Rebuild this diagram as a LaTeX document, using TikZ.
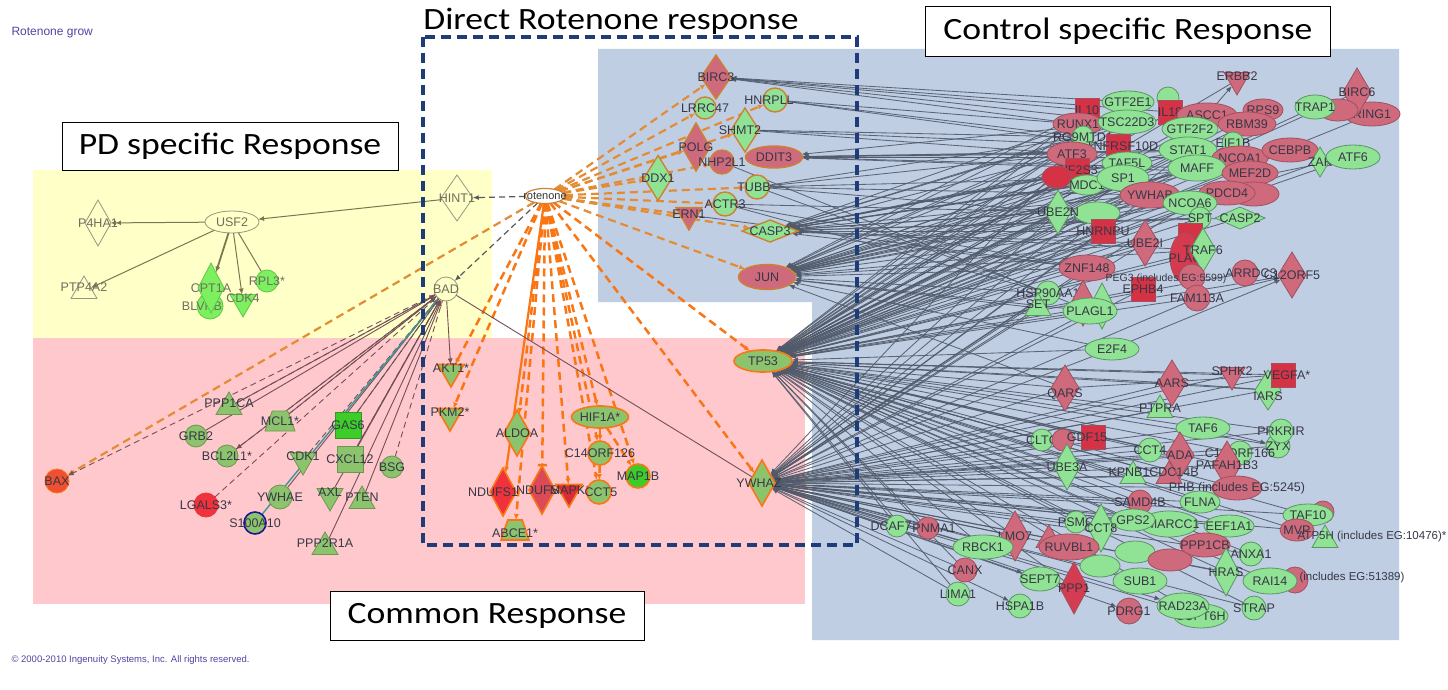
\documentclass[tikz,border=0pt]{standalone}
\usepackage{fontspec}
\setmainfont{Liberation Sans}
\newfontfamily\ttlfont[FakeStretch=1.15]{Carlito}
\usetikzlibrary{shapes.geometric,arrows.meta}
\pgfdeclarelayer{bglayer}
\pgfdeclarelayer{edgelayer}
\pgfsetlayers{bglayer,edgelayer,main}
\definecolor{ylwBg}{RGB}{255,255,200}
\definecolor{pnkBg}{RGB}{255,200,204}
\definecolor{bluBg}{RGB}{192,206,228}
\definecolor{gFill}{RGB}{144,226,148}
\definecolor{gDraw}{RGB}{90,150,100}
\definecolor{rFill}{RGB}{206,106,124}
\definecolor{rDraw}{RGB}{160,80,95}
\definecolor{sqRed}{RGB}{214,50,70}
\definecolor{pgFill}{RGB}{140,196,110}
\definecolor{pgDraw}{RGB}{110,150,80}
\definecolor{brGreen}{RGB}{60,205,40}
\definecolor{brGreenD}{RGB}{50,150,40}
\definecolor{ygFill}{RGB}{125,240,95}
\definecolor{ygDraw}{RGB}{95,200,70}
\definecolor{cOutl}{RGB}{150,150,130}
\definecolor{orngA}{RGB}{228,140,52}
\definecolor{orngB}{RGB}{250,118,20}
\definecolor{cOrU}{RGB}{205,130,50}
\definecolor{cCtl}{RGB}{80,90,106}
\definecolor{cOlv}{RGB}{120,120,80}
\definecolor{cOlvT}{RGB}{110,110,95}
\definecolor{cBrn}{RGB}{115,80,88}
\definecolor{cBox}{RGB}{30,60,120}
\definecolor{cLbl}{RGB}{55,55,70}
\definecolor{redB}{RGB}{240,50,60}
\definecolor{redO}{RGB}{240,80,50}
\definecolor{cNavy}{RGB}{30,20,150}
\definecolor{cTeal}{RGB}{60,150,150}
\definecolor{cPurp}{RGB}{80,70,160}
\begin{document}
\begin{tikzpicture}[x=1pt,y=-1pt,
  every label/.style={font=\fontsize{12.5}{13}\selectfont,text=cLbl,inner sep=0pt},
  nd/.style={inner sep=0pt,outer sep=0pt,line width=0.8pt},
  gE/.style={nd,ellipse,minimum width=52pt,minimum height=22pt,fill=gFill,draw=gDraw},
  rE/.style={nd,ellipse,minimum width=52pt,minimum height=22pt,fill=rFill,draw=rDraw},
  gC/.style={nd,circle,minimum size=22pt,fill=gFill,draw=gDraw},
  rC/.style={nd,circle,minimum size=22pt,fill=rFill,draw=rDraw},
  gD/.style={nd,diamond,minimum width=26pt,minimum height=46pt,fill=gFill,draw=gDraw},
  rD/.style={nd,diamond,minimum width=26pt,minimum height=46pt,fill=rFill,draw=rDraw},
  gT/.style={nd,regular polygon,regular polygon sides=3,minimum size=30pt,fill=gFill,draw=gDraw},
  rT/.style={nd,regular polygon,regular polygon sides=3,minimum size=30pt,fill=rFill,draw=rDraw},
  gV/.style={gT,shape border rotate=180},
  rV/.style={rT,shape border rotate=180},
  rS/.style={nd,rectangle,minimum size=24pt,fill=sqRed,draw=rDraw},
  gS/.style={nd,rectangle,minimum size=26pt,fill=gFill,draw=gDraw},
  gZ/.style={nd,inner sep=3pt,trapezium,trapezium stretches=true,trapezium left angle=65,trapezium right angle=65,minimum width=30pt,minimum height=20pt,fill=gFill,draw=gDraw},
  pk/.style={fill=pgFill,draw=pgDraw},
  yl/.style={fill=ygFill,draw=ygDraw},
  ol/.style={fill=none,draw=cOutl},
  orB/.style={draw=orngB,line width=1.6pt},
  orU/.style={draw=cOrU,line width=1.4pt},
  ctlE/.style={draw=cCtl,line width=0.85pt,draw opacity=0.9},
  arr/.style={-{Latex[length=6pt,width=5pt]}},
  ornA/.style={draw=orngA,line width=2.2pt,dash pattern=on 8pt off 5pt},
  ornB/.style={draw=orngB,line width=2.5pt,dash pattern=on 8pt off 5pt},
  olvE/.style={draw=cOlv,line width=1pt},
  brnE/.style={draw=cBrn,line width=0.9pt},
  brnD/.style={brnE,dash pattern=on 6pt off 4pt},
  gryD/.style={draw=gray!70!black,line width=1.2pt,dash pattern=on 6pt off 4pt},
  ttl/.style={font=\ttlfont\fontsize{31}{34}\selectfont,text=black},
  tbox/.style={ttl,draw=black,line width=0.9pt,fill=white,inner sep=0pt}
]
\useasboundingbox (0,0) rectangle (1448,690);
\begin{pgfonlayer}{bglayer}
\fill[white] (0,0) rectangle (1448,690);
\fill[ylwBg] (33,170) rectangle (492,338);
\fill[pnkBg] (33,338) rectangle (805,604);
\fill[bluBg] (598,49) -- (1399,49) -- (1399,640) -- (812,640) -- (812,302) -- (598,302) -- cycle;
\end{pgfonlayer}

% ---------- PD region ----------
\node[gD,ol,minimum width=32pt,minimum height=46pt,label={[text=cOlvT]center:HINT1}] (hint1) at (457,198) {};
\node[gE,ol,minimum width=54pt,minimum height=22pt,label={[text=cOlvT]center:USF2}] (usf2) at (232,222) {};
\node[gD,ol,label={[text=cOlvT]center:P4HA1}] (p4ha1) at (98,223) {};
\node[gT,ol,label={[text=cOlvT,yshift=4pt]center:PTP4A2}] (ptp4a2) at (84,291) {};
\node[gC,yl,minimum size=26pt,label={[text=cOlvT,xshift=-8pt]center:BLVRB}] (blvrb) at (210,306) {};
\node[gD,yl,minimum height=50pt,label={[text=cOlvT]center:CPT1A}] (cpt1a) at (211,288) {};
\node[gV,yl,label={[text=cOlvT,yshift=4pt]center:CDK4}] (cdk4) at (243,302) {};
\node[gC,yl,label={[text=cOlvT]center:RPL3*}] (rpl3) at (267,281) {};
\node[gC,ol,minimum size=24pt,label={[text=cOlvT]center:BAD}] (bad) at (446,289) {};

% ---------- Common region ----------
\node[gT,pk,label={[yshift=4pt]center:PPP1CA}] (ppp1ca) at (229,407) {};
\node[gC,pk,label=center:GRB2] (grb2) at (196,436) {};
\node[gZ,pk,label=center:MCL1*] (mcl1) at (280,421) {};
\node[gS,fill=brGreen,draw=brGreenD,label=center:GAS6] (gas6) at (348,425) {};
\node[gC,pk,label=center:BCL2L1*] (bcl2l1) at (227,456) {};
\node[gV,pk,label={[yshift=4pt]center:CDK1}] (cdk1) at (303,460) {};
\node[gS,pk,label=center:CXCL12] (cxcl12) at (350,459) {};
\node[gC,pk,label=center:BSG] (bsg) at (392,467) {};
\node[gC,fill=redO,draw=orngB,minimum size=24pt,label=center:BAX] (bax) at (57,481) {};
\node[gC,fill=redB,draw=redB,minimum size=24pt,label=center:LGALS3*] (lgals3) at (206,505) {};
\node[gC,pk,minimum size=24pt,label=center:YWHAE] (ywhae) at (280,497) {};
\node[gV,pk,label={[yshift=4pt]center:AXL}] (axl) at (330,496) {};
\node[gT,pk,label={[yshift=4pt]center:PTEN}] (pten) at (362,501) {};
\node[gC,pk,draw=cNavy,line width=1.6pt,label=center:S100A10] (s100a10) at (255,523) {};
\node[gT,pk,label={[yshift=4pt]center:PPP2R1A}] (ppp2r1a) at (325,547) {};

% ---------- Direct region ----------
\node[nd,ellipse,minimum width=40pt,minimum height=15pt,fill=white,draw=cOrU,line width=1.2pt,
      label={[font=\fontsize{11}{12}\selectfont,text=black!80]center:rotenone}] (rot) at (545,196) {};
\node[gV,pk,orB,label={[yshift=4pt]center:AKT1*}] (akt1) at (451,372) {};
\node[gV,pk,orB,label={[yshift=4pt]center:PKM2*}] (pkm2) at (450,416) {};
\node[gD,pk,orB,label=center:ALDOA] (aldoa) at (517,433) {};
\node[gE,pk,orB,minimum width=57pt,minimum height=22pt,label=center:HIF1A*] (hif1a) at (600,417) {};
\node[gC,pk,orB,minimum size=24pt,label=center:C14ORF126] (c14) at (600,453) {};
\node[gC,fill=brGreen,draw=orngB,line width=1.6pt,minimum size=24pt,label=center:MAP1B] (map1b) at (638,476) {};
\node[gD,fill=redB,draw=orngB,line width=1.6pt,minimum height=48pt,label={[xshift=-10pt]center:NDUFS1}] (ndufs1) at (503,492) {};
\node[gD,fill=rFill!70!red,draw=orngB,line width=1.6pt,minimum height=48pt,label={[xshift=-1pt]center:NDUFS3}] (ndufs3) at (542,490) {};
\node[gV,fill=redB!90!black,draw=orngB,line width=1.6pt,label={[yshift=2pt,xshift=2pt]center:MAPK1}] (mapk1) at (569,492) {};
\node[gC,pk,orB,minimum size=24pt,label={[xshift=2pt]center:CCT5}] (cct5) at (599,492) {};
\node[gZ,pk,orB,minimum width=28pt,label={[yshift=-3pt]center:ABCE1*}] (abce1) at (515,530) {};
\node[gE,pk,orB,minimum width=58pt,minimum height=22pt,label=center:TP53] (tp53) at (763,361) {};
\node[gD,pk,orB,minimum width=26pt,minimum height=46pt,label={[xshift=-3pt]center:YWHAZ}] (ywhaz) at (762,483) {};

\node[rD,orU,minimum width=30pt,minimum height=44pt,label=center:BIRC3] (birc3) at (716,77) {};
\node[gC,orU,label=center:LRRC47] (lrrc47) at (705,108) {};
\node[gC,orU,minimum size=24pt,label={[xshift=-6pt]center:HNRPLL}] (hnrpll) at (775,100) {};
\node[gD,orU,minimum width=28pt,minimum height=44pt,label={[xshift=-5pt]center:SHMT2}] (shmt2) at (745,130) {};
\node[rD,orU,minimum width=28pt,minimum height=48pt,label=center:POLG] (polg) at (696,147) {};
\node[rC,orU,minimum size=24pt,label=center:NHP2L1] (nhp2l1) at (722,162) {};
\node[rE,orU,minimum width=57pt,minimum height=22pt,label=center:DDIT3] (ddit3) at (774,157) {};
\node[gD,orU,minimum width=28pt,minimum height=45pt,label=center:DDX1] (ddx1) at (658,178) {};
\node[gC,orU,minimum size=24pt,label={[xshift=-3pt]center:TUBB}] (tubb) at (757,187) {};
\node[gC,orU,minimum size=24pt,label=center:ACTR3] (actr3) at (725,204) {};
\node[rV,orU,label={[yshift=1pt]center:ERN1}] (ern1) at (689,215) {};
\node[gD,orU,minimum width=56pt,minimum height=22pt,label=center:CASP3] (casp3) at (770,231) {};
\node[rE,orU,minimum width=57pt,minimum height=25pt,label=center:JUN] (jun) at (767,277) {};

% ---------- Control region: upper cluster ----------
\node[rV,label={[yshift=4pt]center:ERBB2}] (erbb2) at (1237,80) {};
\node[rE,minimum width=56pt,minimum height=24pt,label=center:RING1] (ring1) at (1372,114) {};
\node[rD,minimum width=28pt,minimum height=48pt,label=center:BIRC6] (birc6) at (1357,92) {};
\node[rE,minimum width=40pt,label=center:RPS9] (rps9) at (1263,110) {};
\node[rE,minimum width=40pt] (thh4) at (1338,110) {};
\node[gE,minimum width=40pt,minimum height=24pt,label=center:TRAP1] (trap1) at (1315,107) {};
\node[gC] (gx1) at (1168,98) {};
\node[rS,label=center:IL10] (il10) at (1087,110) {};
\node[rS,label=center:IL18] (il18) at (1170,112) {};
\node[gE,label=center:GTF2E1] (gtf2e1) at (1128,102) {};
\node[rE,minimum width=60pt,minimum height=24pt,label=center:ASCC1] (ascc1) at (1207,115) {};
\node[rE,minimum width=58pt,minimum height=24pt,label=center:RBM39] (rbm39) at (1247,124) {};
\node[rE,minimum width=50pt,label=center:RUNX1] (runx) at (1078,124) {};
\node[gE,minimum width=58pt,minimum height=24pt,label=center:TSC22D3] (tsc) at (1127,122) {};
\node[gE,minimum width=56pt,minimum height=24pt,label=center:GTF2F2] (gtf2f2) at (1190,129) {};
\node[gC,label=center:RG9MTD1] (rg9) at (1083,137) {};
\node[rS,label={[xshift=4pt]center:TNFRSF10D}] (tnfr) at (1118,146) {};
\node[gC,label=center:EIF1B] (eif1b) at (1233,143) {};
\node[rE,minimum width=50pt,minimum height=24pt,label=center:ATF3] (atf3) at (1072,154) {};
\node[gE,minimum width=58pt,minimum height=26pt,label=center:STAT1] (stat1) at (1188,150) {};
\node[rE,minimum width=56pt,minimum height=24pt,label=center:NCOA1] (ncoa1) at (1240,158) {};
\node[rE,minimum width=56pt,minimum height=24pt,label=center:CEBPB] (cebpb) at (1290,150) {};
\node[gD,minimum width=18pt,minimum height=30pt,label=center:ZAK] (zak) at (1320,162) {};
\node[gE,minimum width=54pt,minimum height=24pt,label=center:ATF6] (atf6) at (1353,157) {};
\node[rS,fill=sqRed,label=center:EIF2S3] (eif2s3) at (1077,170) {};
\node[rE,fill=sqRed,minimum width=30pt] (fx) at (1057,177) {};
\node[gE,minimum width=50pt,label=center:TAF5L] (taf5l) at (1127,163) {};
\node[gE,minimum width=36pt,minimum height=20pt,label=center:MDC1] (mdc1) at (1087,185) {};
\node[gE,minimum width=52pt,minimum height=26pt,label=center:SP1] (sp1) at (1123,178) {};
\node[gE,minimum width=58pt,minimum height=26pt,label=center:MAFF] (maff) at (1197,168) {};
\node[rE,minimum width=56pt,minimum height=24pt,label=center:MEF2D] (mef2d) at (1250,173) {};
\node[rE,minimum width=50pt,minimum height=24pt] (nr2) at (1254,194) {};
\node[rE,minimum width=56pt,minimum height=24pt,label=center:PDCD4] (pdcd4) at (1227,193) {};
\node[rE,minimum width=60pt,minimum height=26pt,label=center:YWHAB] (ywhab) at (1150,195) {};
\node[gE,minimum width=54pt,minimum height=24pt,label=center:NCOA6] (ncoa6) at (1190,203) {};
\node[gE,minimum width=46pt] (as2) at (1097,213) {};
\node[gD,minimum width=26pt,minimum height=44pt,label=center:UBE2N] (ube2n) at (1058,212) {};
\node[gC,label=center:SPT] (spt) at (1200,218) {};
\node[gD,minimum width=50pt,minimum height=22pt,label=center:CASP2] (casp2) at (1240,218) {};
\node[rS,label=center:HNRNPU] (hnrnpu) at (1103,231) {};
\node[rD,minimum width=28pt,minimum height=46pt,label=center:UBE2I] (ube2i) at (1145,243) {};
\node[rS] (efna) at (1190,235) {};
\node[rE,fill=sqRed!85!rFill,minimum width=30pt,minimum height=50pt,label=center:PLAU] (pla) at (1185,258) {};
\node[gD,minimum width=26pt,minimum height=44pt,label=center:TRAF6] (traf6) at (1203,250) {};
\node[rE,minimum width=56pt,minimum height=26pt,label=center:ZNF148] (znf148) at (1087,268) {};
\node[rC,minimum size=26pt] (pegc) at (1192,277) {};
\node[rC,minimum size=26pt,label={[xshift=6pt]center:ARRDC3}] (arrdc) at (1245,273) {};
\node[rS,label=center:EPHB4] (ephb) at (1143,289) {};
\node[rC,minimum size=26pt,label=center:FAM113A] (fam113a) at (1197,298) {};
\node[rD,minimum width=28pt,minimum height=46pt,label=center:C12ORF5] (c12orf5) at (1292,275) {};
\node (peglbl) at (1166,279) {\fontsize{10.5}{11}\selectfont\color{cLbl}PEG3 (includes EG:5599)};
\node[gC,minimum size=24pt,label=center:HSP90AA1] (hsp90) at (1048,293) {};
\node[gT,label={[yshift=4pt]center:SET}] (set) at (1038,308) {};
\node[rD,minimum width=24pt,minimum height=46pt] (plr) at (1083,303) {};
\node[gD,minimum width=24pt,minimum height=46pt] (plg) at (1102,306) {};
\node[gE,minimum width=54pt,minimum height=26pt,label=center:PLAGL1] (plagl1) at (1090,311) {};
\node[gE,minimum width=54pt,minimum height=22pt,label=center:E2F4] (e2f4) at (1112,349) {};

% ---------- Control region: lower cluster ----------
\node[rD,minimum width=28pt,minimum height=46pt,label={[yshift=-6pt]center:QARS}] (qars) at (1065,388) {};
\node[gT,label={[yshift=2pt]center:PTPRA}] (ptpra) at (1160,410) {};
\node[rD,minimum width=28pt,minimum height=46pt,label=center:AARS] (aars) at (1172,383) {};
\node[rV,label={[yshift=4pt]center:SPHK2}] (sphk2) at (1232,375) {};
\node[gD,minimum width=26pt,minimum height=40pt,label={[yshift=-6pt]center:IARS}] (iars) at (1268,390) {};
\node[rS,label={[xshift=4pt]center:VEGFA*}] (vegfa) at (1283,375) {};
\node[gE,minimum width=54pt,minimum height=22pt,label=center:TAF6] (taf6) at (1203,428) {};
\node[gC,minimum size=24pt,label=center:ZYX] (zyx) at (1278,446) {};
\node[gC,minimum size=24pt,label=center:PRKRIR] (prkrir) at (1281,431) {};
\node[gC,label=center:CLTC] (cltc) at (1042,440) {};
\node[rC] (cltr) at (1063,440) {};
\node[rS,label={[xshift=-6pt]center:GDF15}] (gdf15) at (1093,437) {};
\node[gD,minimum width=26pt,minimum height=46pt,label=center:UBE3A] (ube3a) at (1067,467) {};
\node[gC,minimum size=24pt,label=center:CCT4] (cct4) at (1150,450) {};
\node[rD,minimum width=28pt,minimum height=46pt,label=center:ADA] (ada) at (1180,455) {};
\node[gC,minimum size=24pt,label=center:C14ORF166] (c14orf166) at (1240,453) {};
\node[rD,minimum width=28pt,minimum height=48pt,label=center:PAFAH1B3] (pafah) at (1227,465) {};
\node[gT,label={[yshift=4pt,xshift=-4pt]center:KPNB1}] (kpnb1) at (1133,476) {};
\node[rT,label={[yshift=4pt,xshift=5pt]center:CDC14B}] (cdc14b) at (1169,476) {};
\node[rE,minimum width=50pt,minimum height=24pt,label={center:{PHB (includes EG:5245)}}] (phb) at (1237,488) {};
\node[rC,minimum size=24pt,label=center:SAMD4B] (samd4b) at (1140,502) {};
\node[gE,minimum width=40pt,minimum height=22pt,label=center:FLNA] (flna) at (1200,502) {};
\node[rC] (t10r) at (1323,512) {};
\node[gE,minimum width=50pt,minimum height=22pt,label=center:TAF10] (taf10) at (1308,515) {};
\node[rE,minimum width=34pt,minimum height=22pt,label=center:MVP] (mvp) at (1297,530) {};
\node[gT] (atp5h) at (1325,540) {};
\node (atplbl) at (1372,537) {\fontsize{11.5}{12}\selectfont\color{cLbl}ATP5H (includes EG:10476)*};
\node[gE,minimum width=50pt,minimum height=22pt,label=center:EEF1A1] (eef1a1) at (1229,526) {};
\node[gE,minimum width=58pt,minimum height=26pt,label=center:SMARCC1] (smarcc1) at (1169,524) {};
\node[gE,minimum width=44pt,minimum height=22pt,label=center:GPS2] (gps2) at (1133,520) {};
\node[gC,label=center:PSMC] (psm) at (1076,522) {};
\node[gD,minimum width=26pt,minimum height=48pt,label=center:CCT8] (cct8) at (1101,528) {};
\node[rT] (rtri) at (1049,540) {};
\node[rD,minimum width=28pt,minimum height=50pt,label=center:LMO7] (lmo7) at (1015,536) {};
\node[gE,minimum width=60pt,minimum height=24pt,label=center:RBCK1] (rbck1) at (983,547) {};
\node[rE,minimum width=60pt,minimum height=26pt,label=center:RUVBL1] (ruvbl1) at (1069,547) {};
\node[gC,label={[xshift=-6pt]center:DCAF7}] (dcaf) at (897,526) {};
\node[rC,label={[xshift=6pt]center:PNMA1}] (pnma1) at (928,528) {};
\node[rC,minimum size=24pt,label=center:CANX] (canx) at (965,570) {};
\node[gC,minimum size=24pt,label=center:LIMA1] (lima1) at (958,594) {};
\node[gE,minimum width=40pt,minimum height=24pt,label=center:SEPT7] (sept7) at (1040,579) {};
\node[gC,minimum size=24pt,label=center:HSPA1B] (hspa1b) at (1020,606) {};
\node[gE,minimum width=40pt] (gx2) at (1100,566) {};
\node[gE,minimum width=40pt] (gx3) at (1135,552) {};
\node[rE,minimum width=44pt] (rx1) at (1170,560) {};
\node[rD,fill=sqRed!80!rFill,minimum width=28pt,minimum height=52pt,label=center:PPP1] (ppp1) at (1074,588) {};
\node[rC,minimum size=26pt,label=center:PDRG1] (pdrg1) at (1129,611) {};
\node[gE,minimum width=54pt,minimum height=26pt,label=center:SUB1] (sub1) at (1140,581) {};
\node[rE,minimum width=50pt,minimum height=24pt,label=center:PPP1CB] (ppp1cb) at (1205,545) {};
\node[gE,minimum width=54pt,minimum height=24pt,label=center:SUPT6H] (supt6h) at (1201,616) {};
\node[gE,minimum width=52pt,minimum height=26pt,label=center:RAD23A] (rad23a) at (1183,606) {};
\node[gC,minimum size=24pt,label=center:ANXA1] (anxa1) at (1251,554) {};
\node[rC,minimum size=26pt] (rx2) at (1295,580) {};
\node[gE,minimum width=54pt,minimum height=26pt,label=center:RAI14] (rai14) at (1270,581) {};
\node[gD,minimum width=26pt,minimum height=48pt,label=center:HRAS] (hras) at (1226,572) {};
\node[gC,minimum size=24pt,label=center:STRAP] (strap) at (1254,608) {};
\node (eglbl) at (1352,578) {\fontsize{11.5}{12}\selectfont\color{cLbl}(includes EG:51389)};

% ---------- edges ----------
\begin{pgfonlayer}{edgelayer}
\foreach \n in {erbb2,birc6,ring1,trap1,rps9,gtf2e1,il10,il18,ascc1,rbm39,runx,tsc,gtf2f2,rg9,tnfr,eif1b,atf3,stat1,ncoa1,cebpb,atf6,zak,eif2s3,fx,taf5l,sp1,maff,mef2d,mdc1,ywhab,pdcd4,ncoa6,ube2n,spt,casp2,hnrnpu,ube2i,traf6,pla,znf148,arrdc,c12orf5,ephb,fam113a,hsp90,set,plagl1,e2f4,qars,aars,sphk2,vegfa,iars,ptpra,taf6,prkrir,zyx,cltc,gdf15,ube3a,cct4,ada,c14orf166,pafah,kpnb1,cdc14b,phb,samd4b,flna,taf10,mvp,eef1a1,smarcc1,gps2,cct8,psm,lmo7,rbck1,ruvbl1,dcaf,pnma1,canx,lima1,ppp1,strap,rai14,hras,anxa1,supt6h}
  \draw[ctlE,arr] (\n) -- (tp53);
\foreach \n in {qars,aars,sphk2,vegfa,iars,ptpra,taf6,prkrir,zyx,cltc,gdf15,ube3a,cct4,ada,c14orf166,pafah,kpnb1,cdc14b,phb,samd4b,flna,taf10,mvp,eef1a1,smarcc1,gps2,cct8,psm,lmo7,rbck1,ruvbl1,dcaf,pnma1,canx,lima1,ppp1,strap,rai14,hras,anxa1,supt6h,e2f4,plagl1,set,hsp90,znf148,ephb,fam113a,ube2i,hnrnpu,ube2n,sp1,atf3,stat1,ncoa6,ywhab}
  \draw[ctlE,arr] (\n) -- (ywhaz);
\foreach \n in {sept7,hspa1b,pdrg1,rad23a,sub1}
  \draw[ctlE,arr] (ywhaz) -- (\n);
\foreach \n in {il10,runx,tsc,rg9,atf3,stat1,sp1,maff,mdc1,ywhab,ncoa6,ube2n,hnrnpu,ube2i,znf148,plagl1,hsp90,set,e2f4,eif2s3,fx,taf5l,ncoa1,cebpb,atf6,pdcd4,traf6,qars}
  \draw[ctlE,arr] (\n) -- (jun);
\foreach \n in {runx,atf3,eif2s3,fx,mdc1,sp1,taf5l,ywhab,ube2n,hnrnpu,ube2i,stat1,maff,ncoa6,casp2,spt,traf6,znf148,tsc,rg9}
  \draw[ctlE,arr] (\n) -- (casp3);
\foreach \n in {atf3,stat1,cebpb,atf6,ncoa1,tsc,maff,mef2d}
  \draw[ctlE,arr] (\n) -- (ddit3);
\foreach \n in {rg9,atf3,sp1,ube2n,ywhab,hsp90}
  \draw[ctlE] (\n) -- (tubb);
\foreach \n in {il10,runx,gtf2e1,tsc,il18}
  \draw[ctlE,arr] (\n) -- (birc3);
\foreach \n in {runx,rg9,tnfr}
  \draw[ctlE] (\n) -- (hnrpll);
\foreach \n in {rg9,atf3,tnfr}
  \draw[ctlE] (\n) -- (shmt2);
\foreach \n in {ube2n,hsp90,znf148}
  \draw[ctlE] (\n) -- (actr3);
\draw[ctlE] (ern1) -- (znf148);
\draw[ctlE] (nhp2l1) -- (plagl1);
\draw[ctlE,arr] (ascc1) -- (erbb2);
\draw[ctlE,arr] (fam113a) -- (c12orf5);
\draw[ctlE,arr] (e2f4) -- (c12orf5);
\draw[ctlE,arr] (taf6) -- (zyx);
\draw[ctlE] (qars) -- (vegfa);
\draw[ctlE] (aars) -- (iars);

\foreach \n in {birc3,lrrc47,hnrpll,shmt2,polg,nhp2l1,ddx1,tubb,actr3,ern1,casp3,jun}
  \draw[ornA,arr] (rot) -- (\n);
\foreach \n in {tp53,ywhaz,akt1,pkm2,aldoa,abce1,mapk1,hif1a,c14,cct5,map1b}
  \draw[ornB,arr] (rot) -- (\n);
\draw[ornB,arr] (hif1a) -- (c14);
\draw[ornB,arr] (c14) -- (cct5);
\draw[ornB,arr] (hif1a) -- (map1b);
\draw[draw=orngB,line width=2.2pt,arr] (rot) -- (ndufs1);
\draw[ornB,-{Bar[width=9pt]}] (rot) -- (ndufs3);
\draw[ornA,arr] (rot) -- (bax);
\draw[gryD,arr] (rot) -- (hint1);
\draw[gryD,arr] (rot) -- (bad);

\draw[olvE,arr] (hint1) -- (usf2);
\draw[olvE,-{Latex[length=5pt,width=5pt]Latex[length=5pt,width=5pt]}] (usf2) -- (p4ha1);
\draw[olvE,arr] (usf2) -- (ptp4a2);
\draw[olvE,line width=1.8pt,arr] (usf2) -- (cpt1a);
\draw[olvE,arr] (usf2) -- (cdk4);
\draw[olvE] (usf2) -- (rpl3);

\draw[brnD,arr] (bad) -- (bax);
\draw[brnE,arr] (bad) -- (bcl2l1);
\draw[brnD] (bad) -- (bcl2l1);
\draw[brnE,arr] (bad) -- (akt1);
\draw[brnE] (bad) -- (ywhaz);
\foreach \n in {ppp1ca,grb2,mcl1,ywhae,axl,pten,ppp2r1a,cxcl12}
  \draw[brnE,arr] (\n) -- (bad);
\foreach \n in {ppp1ca,mcl1,cdk1,gas6,bsg,lgals3,cxcl12}
  \draw[brnD] (\n) -- (bad);
\draw[draw=cTeal,line width=1.4pt] (s100a10) -- (bad);
\draw[brnE] (gas6) -- (bad);
\end{pgfonlayer}

\draw[draw=cBox,line width=3.4pt,dash pattern=on 10pt off 6pt] (423,37) rectangle (857,545);
\node[ttl] (tdir) at (611,21) {Direct Rotenone response};
\node[tbox,minimum width=336pt,minimum height=48pt] (tpd) at (230,146) {PD specific Response};
\node[tbox,minimum width=405pt,minimum height=50pt] (tctl) at (1128,31) {Control specific Response};
\node[tbox,minimum width=314pt,minimum height=49pt] (tcom) at (487,616) {Common Response};
\node[anchor=west,font=\fontsize{12}{13}\selectfont,text=cPurp] (rgrow) at (8,33) {Rotenone grow};
\node[anchor=west,font=\fontsize{9.5}{11}\selectfont,text=cPurp] (copy) at (8,660) {© 2000-2010 Ingenuity Systems, Inc. All rights reserved.};
\end{tikzpicture}
\end{document}
